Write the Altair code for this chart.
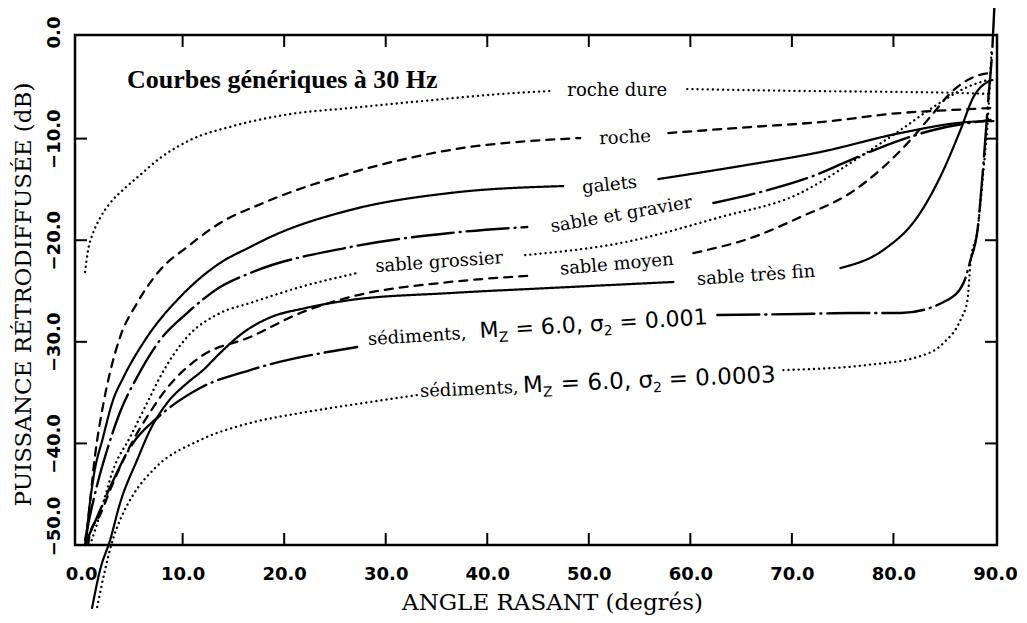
import altair as alt
import pandas as pd

W, H = 922, 510

# ---------------- curve data (x = angle rasant en degrés, y = dB) ----------------
# each curve may be split in two pieces where its label interrupts it
roche_dure_x1 = [0.39, 0.69, 1.18, 1.87, 2.86, 4.33, 5.81, 7.78, 10.74, 14.98, 20.59, 26.50, 34.68, 41.28, 46.21]
roche_dure_y1 = [-23.13, -20.96, -19.29, -17.81, -16.34, -14.86, -13.58, -11.91, -10.14, -8.76, -7.58, -6.99, -6.20, -5.61, -5.31]
roche_dure_x2 = [59.70, 70.84, 80.69, 86.60, 89.56]
roche_dure_y2 = [-5.12, -5.31, -5.41, -5.51, -5.61]

roche_x1 = [0.39, 0.69, 1.38, 2.17, 2.86, 3.84, 5.52, 7.78, 10.44, 13.69, 17.93, 26.50, 36.35, 49.16]
roche_y1 = [-50.0, -47.54, -41.14, -36.22, -32.97, -29.53, -26.18, -22.93, -20.67, -18.31, -16.34, -13.39, -11.12, -9.94]
roche_x2 = [57.83, 65.91, 72.81, 80.69, 85.62, 89.56]
roche_y2 = [-9.45, -8.86, -8.37, -7.48, -7.19, -6.99]

galets_x1 = [0.49, 0.69, 1.18, 2.17, 3.15, 4.14, 6.50, 9.75, 13.69, 16.65, 18.62, 26.50, 36.35, 47.49]
galets_y1 = [-50.0, -47.54, -43.60, -39.37, -35.73, -33.56, -29.53, -25.59, -22.24, -20.67, -19.69, -17.03, -15.35, -14.67]
galets_x2 = [56.85, 64.93, 72.81, 80.69, 87.29, 89.85]
galets_y2 = [-13.98, -12.70, -11.32, -9.45, -8.37, -8.27]

gravier_x1 = [0.39, 0.89, 1.58, 2.56, 3.84, 5.52, 7.78, 10.44, 13.69, 16.65, 26.50, 36.35, 43.94]
gravier_y1 = [-49.51, -47.05, -44.09, -40.65, -36.91, -33.46, -29.82, -27.17, -24.61, -23.23, -20.67, -19.29, -18.70]
gravier_x2 = [62.27, 66.90, 71.82, 75.76, 80.69, 83.94, 89.56]
gravier_y2 = [-16.34, -15.26, -13.78, -12.11, -10.14, -9.15, -8.17]

grossier_x1 = [0.89, 1.38, 2.17, 3.15, 4.83, 6.50, 7.78, 10.44, 13.69, 16.65, 21.58, 27.19]
grossier_y1 = [-50.0, -48.52, -45.87, -42.62, -39.37, -36.02, -33.46, -29.53, -27.17, -26.18, -24.61, -23.23]
grossier_x2 = [43.74, 53.10, 62.96, 70.84, 72.81, 75.76, 80.69, 83.94, 87.29, 89.26]
grossier_y2 = [-21.46, -20.28, -17.72, -15.35, -14.27, -12.40, -9.15, -6.89, -4.92, -4.23]

moyen_x1 = [0.69, 0.89, 1.87, 2.86, 4.53, 6.80, 8.47, 11.72, 16.65, 21.58, 26.50, 36.35, 43.94]
moyen_y1 = [-50.0, -48.82, -47.05, -44.59, -40.85, -36.91, -34.55, -31.50, -29.53, -27.17, -25.59, -24.11, -23.52]
moyen_x2 = [60.30, 66.21, 70.84, 75.76, 79.01, 81.67, 83.94, 85.62, 87.88, 89.56]
moyen_y2 = [-21.26, -19.69, -17.72, -15.35, -12.80, -10.14, -7.48, -5.51, -3.94, -3.54]

tresfin_x1 = [1.08, 1.87, 2.86, 3.84, 5.52, 6.80, 8.47, 10.44, 12.02, 13.69, 15.96, 18.62, 22.0, 26.50, 36.35, 46.21, 58.33]
tresfin_y1 = [-56.20, -52.46, -49.51, -45.87, -41.63, -38.68, -36.02, -34.06, -32.78, -31.10, -29.10, -27.60, -26.70, -25.89, -25.20, -24.70, -24.11]
tresfin_x2 = [74.78, 79.01, 82.36, 84.93, 86.60, 87.88, 89.26, 89.75]
tresfin_y2 = [-22.74, -20.96, -17.72, -13.09, -9.15, -5.91, -4.43, -4.23]

sed001_x1 = [0.39, 0.59, 1.58, 2.86, 5.12, 7.49, 11.72, 16.65, 27.19]
sed001_y1 = [-50.0, -49.51, -47.24, -44.29, -39.96, -37.50, -34.55, -32.78, -30.51]
sed001_x2 = [62.66, 70.84, 75.76, 80.69, 85.32, 86.90, 87.59, 88.28, 88.87, 89.36, 89.75, 89.95]
sed001_y2 = [-27.36, -27.26, -27.17, -27.17, -25.89, -24.21, -21.95, -19.00, -12.40, -5.91, -0.98, 3.15]

sed0003_x1 = [1.58, 2.36, 3.05, 3.84, 5.12, 7.29, 11.72, 16.65, 21.58, 26.50, 33.10]
sed0003_y1 = [-56.10, -52.46, -49.70, -47.54, -45.08, -42.42, -39.67, -37.99, -37.01, -36.22, -35.24]
sed0003_x2 = [69.16, 77.44, 82.36, 84.93, 86.60, 87.29, 87.59, 88.28, 88.87, 89.36, 89.66]
sed0003_y2 = [-32.78, -32.28, -31.50, -30.12, -27.85, -25.89, -22.24, -19.00, -13.09, -7.19, -1.28]

curves = [
    ("roche dure", "dotted", [(roche_dure_x1, roche_dure_y1), (roche_dure_x2, roche_dure_y2)]),
    ("roche", "dashed", [(roche_x1, roche_y1), (roche_x2, roche_y2)]),
    ("galets", "solid", [(galets_x1, galets_y1), (galets_x2, galets_y2)]),
    ("sable et gravier", "dashdot", [(gravier_x1, gravier_y1), (gravier_x2, gravier_y2)]),
    ("sable grossier", "dotted", [(grossier_x1, grossier_y1), (grossier_x2, grossier_y2)]),
    ("sable moyen", "dashed", [(moyen_x1, moyen_y1), (moyen_x2, moyen_y2)]),
    ("sable très fin", "solid", [(tresfin_x1, tresfin_y1), (tresfin_x2, tresfin_y2)]),
    ("sed 0.001", "dashdot", [(sed001_x1, sed001_y1), (sed001_x2, sed001_y2)]),
    ("sed 0.0003", "dotted", [(sed0003_x1, sed0003_y1), (sed0003_x2, sed0003_y2)]),
]

rows = []
for name, style, segs in curves:
    for si, (xs, ys) in enumerate(segs):
        for i, (xv, yv) in enumerate(zip(xs, ys)):
            rows.append({"key": f"{name}-{si}", "style": style, "x": xv, "y": yv, "i": i})
df = pd.DataFrame(rows)

# ---------------- axes ----------------
x_label_values = [0, 10, 20, 30, 40, 50, 60, 70, 80, 90]
y_label_values = [0, -10, -20, -30, -40, -50]
x_inner_ticks = [10, 20, 30, 40, 50, 60, 70, 80]
y_inner_ticks = [-10, -20, -30, -40]

xscale = alt.Scale(domain=[-0.6, 90.2], nice=False, zero=False)
yscale = alt.Scale(domain=[-50.0, 0.2], nice=False, zero=False)

x_axis = alt.Axis(
    values=x_label_values, format=".1f", ticks=False, domain=False, grid=False,
    labelFont="DejaVu Sans", labelFontWeight="bold", labelFontSize=18, labelColor="black",
    labelPadding=20, labelFlush=False,
    title="ANGLE RASANT (degrés)", titleFont="DejaVu Serif", titleFontSize=23,
    titleFontWeight="normal", titleColor="black", titlePadding=8, titleX=477,
)
y_axis = alt.Axis(
    values=y_label_values, format=".1f", ticks=False, domain=False, grid=False,
    labelFont="DejaVu Sans", labelFontWeight="bold", labelFontSize=18, labelColor="black",
    labelAngle=270, labelPadding=12,
    labelOffset={"condition": [{"test": "datum.value == -50", "value": -19},
                               {"test": "datum.value == 0", "value": -5}], "value": 0},
    title="PUISSANCE RÉTRODIFFUSÉE (dB)", titleFont="DejaVu Serif", titleFontSize=23,
    titleFontWeight="normal", titleColor="black", titlePadding=10, titleY=259,
)

style_domain = ["solid", "dashed", "dotted", "dashdot"]
lines = alt.Chart(df).mark_line(color="black", strokeCap="round",
                                interpolate="monotone").encode(
    x=alt.X("x:Q", scale=xscale, axis=x_axis),
    y=alt.Y("y:Q", scale=yscale, axis=y_axis),
    detail="key:N",
    order="i:Q",
    strokeDash=alt.StrokeDash("style:N", legend=None, scale=alt.Scale(
        domain=style_domain, range=[[1, 0], [8, 7], [0.1, 5], [42, 6, 1, 6]])),
    strokeWidth=alt.StrokeWidth("style:N", legend=None, scale=alt.Scale(
        domain=style_domain, range=[2.2, 2.4, 2.8, 2.2])),
)

tx = pd.DataFrame({"v": x_inner_ticks})
ty = pd.DataFrame({"v": y_inner_ticks})
tick_style = dict(color="black", strokeWidth=2)
ticks_bottom = alt.Chart(tx).mark_rule(**tick_style).encode(
    x=alt.X("v:Q", scale=xscale), y=alt.value(H), y2=alt.value(H - 12))
ticks_top = alt.Chart(tx).mark_rule(**tick_style).encode(
    x=alt.X("v:Q", scale=xscale), y=alt.value(0), y2=alt.value(12))
ticks_left = alt.Chart(ty).mark_rule(**tick_style).encode(
    y=alt.Y("v:Q", scale=yscale), x=alt.value(0), x2=alt.value(12))
ticks_right = alt.Chart(ty).mark_rule(**tick_style).encode(
    y=alt.Y("v:Q", scale=yscale), x=alt.value(W), x2=alt.value(W - 12))

# ---------------- labels ----------------
label_text = ["roche dure", "roche", "galets", "sable et gravier", "sable grossier", "sable moyen", "sable très fin"]
label_x = [52.8, 53.6, 52.1, 53.3, 35.3, 52.8, 66.5]
label_y = [-5.81, -10.43, -15.1, -18.0, -22.7, -22.9, -24.0]
label_angle = [0, 357, 354, 350, 356, 355, 356]

layers = [lines, ticks_bottom, ticks_top, ticks_left, ticks_right]
for t, lx, ly, la in zip(label_text, label_x, label_y, label_angle):
    d = pd.DataFrame({"x": [lx], "y": [ly], "t": [t]})
    layers.append(alt.Chart(d).mark_text(font="DejaVu Serif", fontSize=18, color="black",
                                         align="center", baseline="alphabetic", angle=la).encode(
        x=alt.X("x:Q", scale=xscale), y=alt.Y("y:Q", scale=yscale), text="t:N"))

title_text = ["Courbes génériques à 30 Hz"]
title_x = [4.53]
title_y = [-5.02]
d = pd.DataFrame({"x": title_x, "y": title_y, "t": title_text})
layers.append(alt.Chart(d).mark_text(font="Liberation Serif", fontSize=26, fontWeight="bold", color="black",
                                     align="left", baseline="alphabetic").encode(
    x=alt.X("x:Q", scale=xscale), y=alt.Y("y:Q", scale=yscale), text="t:N"))

# sediment labels: pieces (text, font, size, dx, dy)
sed_x = [28.28, 33.40]
sed_y = [-30.31, -35.43]
sed_angle = [356.5, 357.6]
sed_pieces = [
    [("sédiments,", "DejaVu Serif", 18, 0, 0), ("M", "DejaVu Sans", 22, 112, 0), ("Z", "DejaVu Sans", 14, 131, 5),
     ("= 6.0, σ", "DejaVu Sans", 22, 148, 0), ("2", "DejaVu Sans", 14, 236, 5), ("= 0.001", "DejaVu Sans", 22, 252, 0)],
    [("sédiments,", "DejaVu Serif", 18, 0, 0), ("M", "DejaVu Sans", 23, 103, 0), ("Z", "DejaVu Sans", 14, 123, 5),
     ("= 6.0, σ", "DejaVu Sans", 23, 141, 0), ("2", "DejaVu Sans", 14, 233, 5), ("= 0.0003", "DejaVu Sans", 23, 249, 0)],
]
for sx, sy, sa, pieces in zip(sed_x, sed_y, sed_angle, sed_pieces):
    for txt, fnt, fs, dx, dy in pieces:
        d = pd.DataFrame({"x": [sx], "y": [sy], "t": [txt]})
        layers.append(alt.Chart(d).mark_text(font=fnt, fontSize=fs, color="black", align="left",
                                             baseline="alphabetic", angle=sa, dx=dx, dy=dy).encode(
            x=alt.X("x:Q", scale=xscale), y=alt.Y("y:Q", scale=yscale), text="t:N"))

chart = alt.layer(*layers).properties(
    width=W, height=H,
    padding={"left": 67, "top": 27, "right": 20, "bottom": 78},
    autosize=alt.AutoSizeParams(type="none"),
    background="white",
).configure_view(stroke="black", strokeWidth=2.5)

chart.save("out.html", embed_options={"renderer": "svg", "actions": False})
